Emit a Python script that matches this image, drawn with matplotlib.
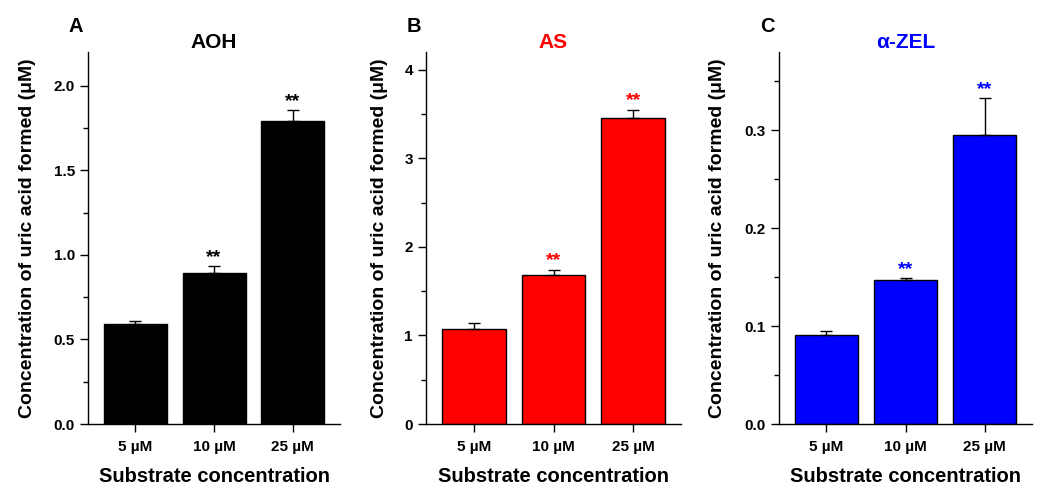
import matplotlib
matplotlib.use("Agg")
import matplotlib.pyplot as plt
from matplotlib.ticker import MultipleLocator

plt.rcParams['font.family'] = ['Liberation Sans', 'DejaVu Sans']
plt.rcParams['font.weight'] = 'bold'

categories = ['5 µM', '10 µM', '25 µM']

aoh_values = [0.59, 0.893, 1.789]
aoh_errors = [0.017, 0.040, 0.067]
as_values = [1.075, 1.684, 3.45]
as_errors = [0.06, 0.06, 0.10]
zel_values = [0.0907, 0.1474, 0.295]
zel_errors = [0.004, 0.002, 0.038]

sig_flags = [False, True, True]

panels = [
    dict(letter='A', title='AOH', color='#000000', vals=aoh_values, errs=aoh_errors,
         ylim=(0, 2.2), major=0.5, minor=0.25, fmt='{:.1f}', left=88, right=340, ylx=28),
    dict(letter='B', title='AS', color='#FF0000', vals=as_values, errs=as_errors,
         ylim=(0, 4.2), major=1, minor=0.5, fmt='{:.0f}', left=426, right=681, ylx=380),
    dict(letter='C', title='α-ZEL', color='#0000FF', vals=zel_values, errs=zel_errors,
         ylim=(0, 0.38), major=0.1, minor=0.05, fmt='{:.1f}', left=779, right=1032, ylx=718),
]

W, H = 1037, 486
fig = plt.figure(figsize=(W / 100, H / 100), dpi=100)

top_px, bot_px = 52, 424
ah = bot_px - top_px

for p in panels:
    aw = p['right'] - p['left']
    ax = fig.add_axes([p['left'] / W, (H - bot_px) / H, aw / W, ah / H])
    x = list(range(len(categories)))
    ax.bar(x, p['vals'], width=0.8, color=p['color'], edgecolor='black', linewidth=1.0,
           yerr=[[0] * 3, p['errs']], capsize=4,
           error_kw=dict(ecolor='black', elinewidth=1.0, capthick=1.0))
    for xi, v, e, s in zip(x, p['vals'], p['errs'], sig_flags):
        if s:
            ax.annotate('**', (xi, v + e), xytext=(0, 0), textcoords='offset points',
                        ha='center', va='bottom', color=p['color'], fontsize=14,
                        fontweight='bold')
    ax.set_xlim(-0.6, 2.6)
    ax.set_ylim(*p['ylim'])
    ax.set_xticks(x)
    ax.set_xticklabels(categories, fontsize=11, fontweight='bold')
    ax.yaxis.set_major_locator(MultipleLocator(p['major']))
    ax.yaxis.set_minor_locator(MultipleLocator(p['minor']))
    ticks = ax.get_yticks()
    ax.set_yticks([t for t in ticks if p['ylim'][0] - 1e-9 <= t <= p['ylim'][1] + 1e-9])
    ax.set_yticklabels([p['fmt'].format(t) for t in ax.get_yticks()],
                       fontsize=11, fontweight='bold')
    ax.tick_params(axis='y', which='major', direction='out', length=6, width=1.0, pad=3.5)
    ax.tick_params(axis='y', which='minor', direction='out', length=3.5, width=1.0)
    ax.tick_params(axis='x', which='major', direction='out', length=5.5, width=1.0, pad=6)
    for sp in ['top', 'right']:
        ax.spines[sp].set_visible(False)
    for sp in ['left', 'bottom']:
        ax.spines[sp].set_linewidth(1.0)
    ax.set_ylabel('Concentration of uric acid formed (μM)', fontsize=14,
                  fontweight='bold', va='center')
    ax.yaxis.set_label_coords((p['ylx'] - p['left']) / aw, 0.5)
    ax.set_xlabel('Substrate concentration', fontsize=14.5, fontweight='bold', va='baseline')
    ax.xaxis.set_label_coords(0.5, (bot_px - 482) / ah)
    ax.set_title(p['title'], color=p['color'], fontsize=15, fontweight='bold', pad=0)
    fig.text((p['left'] - 12) / W, 1 - 27 / H, p['letter'], fontsize=14.5,
             fontweight='bold', ha='center', va='center')

fig.savefig('out.png', dpi=100)
